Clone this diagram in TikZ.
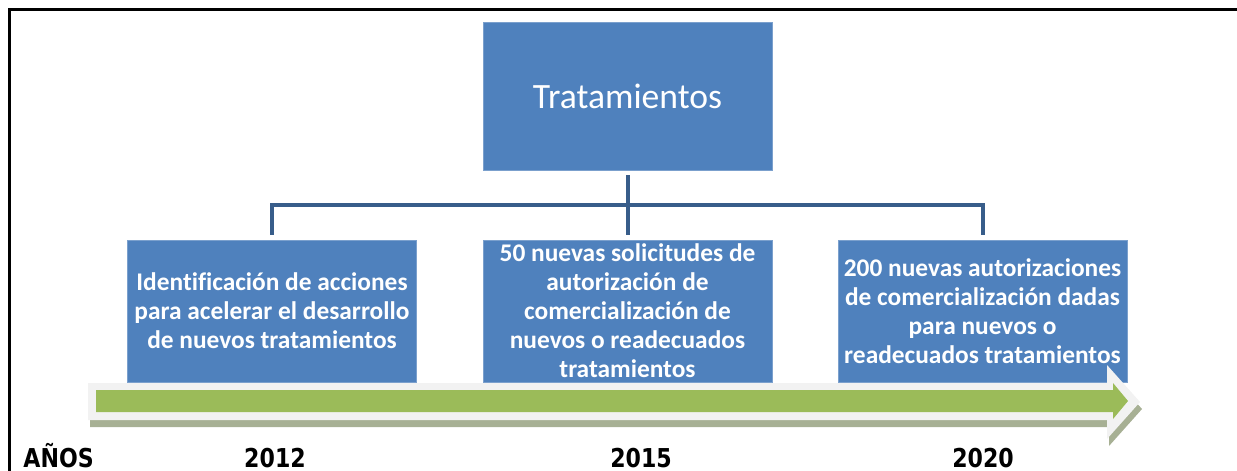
\documentclass[tikz,border=0pt]{standalone}
\usepackage{fontspec}
\setmainfont[Ligatures=NoCommon]{Carlito}
\newfontfamily\yearfont[FakeStretch=0.85]{DejaVu Sans}
\usetikzlibrary{positioning}
\definecolor{boxblue}{HTML}{4F81BD}
\definecolor{linkblue}{HTML}{385D8A}
\definecolor{bargreen}{HTML}{9BBB59}
\definecolor{barglow}{HTML}{F2F2F2}
\definecolor{barshadow}{HTML}{A7B094}

\begin{document}
\begin{tikzpicture}[x=0.5pt, y=-0.5pt, box/.style={fill=boxblue, draw=boxblue!75!white, line width=0.4pt, minimum width=144.5pt, minimum height=71pt, inner sep=0pt, text=white, align=center, font=\bfseries\fontsize{12.7}{14.5}\selectfont}, link/.style={draw=linkblue, line width=2pt, shorten <=2.5pt, shorten >=2.5pt}, year/.style={anchor=base, inner sep=0pt, font=\yearfont\bfseries\fontsize{13}{15}\selectfont}]
  \useasboundingbox (0,0) rectangle (1237,471);
  \draw[line width=1.5pt] (9,471) -- (9,9) -- (1237,9);

  \node[box, minimum height=74pt, font=\fontsize{17.8}{20}\selectfont] (trat) at (627.5,96) {Tratamientos};

  \node[box] (b2012) at (272,311) {Identificación de acciones\\para acelerar el desarrollo\\de nuevos tratamientos};
  \node[box] (b2015) at (627.5,311) {50 nuevas solicitudes de\\autorización de\\comercialización de\\nuevos o readecuados\\tratamientos};
  \node[box] (b2020) at (982.5,311) {200 nuevas autorizaciones\\de comercialización dadas\\para nuevos o\\readecuados tratamientos};

  \coordinate (hub) at (627.5,205);
  \draw[link] (trat) -- (b2015);
  \draw[link] (b2012.north) |- (hub) -| (b2020.north);

  % time arrow
  \fill[barshadow] (90,390) -- (1109,390) -- (1109,372) -- (1142,409) -- (1109,446) -- (1109,427) -- (90,427) -- cycle;
  \fill[barglow] (88,383) -- (1107,383) -- (1107,365) -- (1140,402) -- (1107,439) -- (1107,420) -- (88,420) -- cycle;
  \fill[bargreen] (96,390) -- (1113,390) -- (1113,383) -- (1128,401) -- (1113,419) -- (1113,412) -- (96,412) -- cycle;

  \node[year, anchor=base west] (anos) at (23,467) {AÑOS};
  \node[year] (y2012) at (275,467) {2012};
  \node[year] (y2015) at (641,467) {2015};
  \node[year] (y2020) at (983,467) {2020};
\end{tikzpicture}
\end{document}
